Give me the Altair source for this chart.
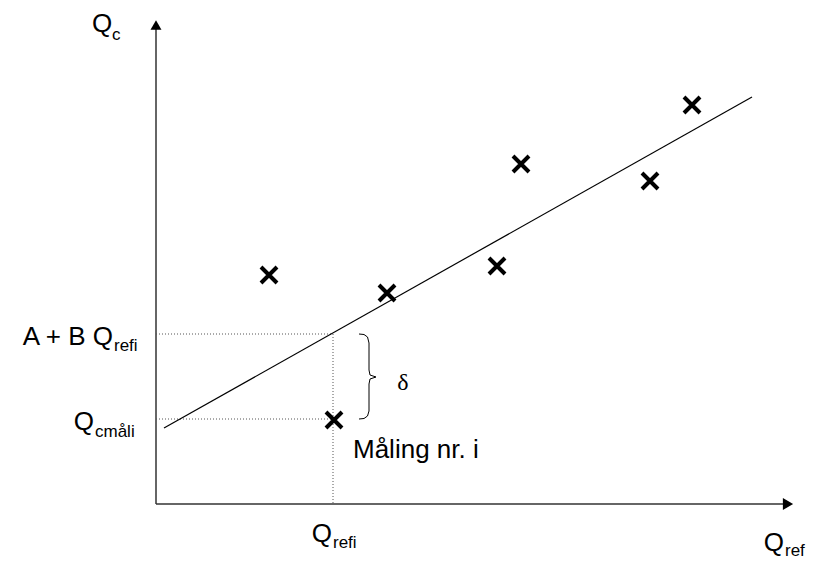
import altair as alt
import pandas as pd

# ---- data (units: origin at axis crossing) ----
meas_x = [113, 231, 341, 365, 494, 536]
meas_y = [229, 211, 238, 340, 323, 399]
point_i_x = [178]
point_i_y = [84]
fit_x = [8, 596]
fit_y = [76, 407]
q_refi = 177
a_b_qrefi = 170
q_cmaali = 85
axis_x_end = 632
axis_y_end = 479
brace_x = [203, 208, 211.5, 213, 213, 214, 220, 214, 213, 213, 211.5, 208, 203]
brace_y = [170, 169.5, 167, 161, 134, 129, 127, 125, 120, 93, 88, 85.5, 85]

main_left = ["Q", "Måling nr. i"]
main_left_x = [-64, 197]
main_left_y = [472, 46]
main_right = ["A + B Q", "Q", "Q", "Q"]
main_right_x = [-43, -62, 176, 628]
main_right_y = [159, 74, -38, -47]
subs = ["c", "refi", "cmåli", "refi", "ref"]
subs_x = [-44, -42, -61, 177, 629]
subs_y = [464, 153, 67, -44, -52]
delta_label = ["δ"]
delta_x = [247]
delta_y = [114]

X = alt.X("x:Q", scale=alt.Scale(domain=[-148, 652], nice=False, zero=False), axis=None)
Y = alt.Y("y:Q", scale=alt.Scale(domain=[-57, 496], nice=False, zero=False), axis=None)

axes_df = pd.DataFrame({"x": [0, 0], "y": [0, 0], "x2": [axis_x_end, 0], "y2": [0, axis_y_end]})
axes = alt.Chart(axes_df).mark_rule(color="#333333", strokeWidth=1.5).encode(
    x=X, y=Y, x2="x2:Q", y2="y2:Q")

arr_up = alt.Chart(pd.DataFrame({"x": [0], "y": [axis_y_end]})).mark_point(
    shape="triangle-up", filled=True, size=120, color="black", opacity=1).encode(x=X, y=Y)
arr_right = alt.Chart(pd.DataFrame({"x": [axis_x_end], "y": [0]})).mark_point(
    shape="triangle-right", filled=True, size=140, color="black", opacity=1).encode(x=X, y=Y)

dot_df = pd.DataFrame({
    "x": [0, 0, q_refi],
    "y": [a_b_qrefi, q_cmaali, a_b_qrefi],
    "x2": [q_refi, q_refi, q_refi],
    "y2": [a_b_qrefi, q_cmaali, 0],
})
dotted = alt.Chart(dot_df).mark_rule(color="#555555", strokeWidth=1, strokeDash=[1, 2]).encode(
    x=X, y=Y, x2="x2:Q", y2="y2:Q")

fit = alt.Chart(pd.DataFrame({"x": fit_x, "y": fit_y})).mark_line(
    color="black", strokeWidth=1.2).encode(x=X, y=Y)

brace = alt.Chart(pd.DataFrame({"x": brace_x, "y": brace_y, "o": list(range(len(brace_x)))})).mark_line(
    color="black", strokeWidth=1, interpolate="linear").encode(x=X, y=Y, order="o:Q")

pts_df = pd.DataFrame({"x": meas_x + point_i_x, "y": meas_y + point_i_y})
pts = alt.Chart(pts_df).mark_point(
    shape="M-1,-1L1,1M-1,1L1,-1", size=256, strokeWidth=4, filled=False,
    color="black", opacity=1).encode(x=X, y=Y)

t_left = alt.Chart(pd.DataFrame({"x": main_left_x, "y": main_left_y, "t": main_left})).mark_text(
    font="Liberation Sans", fontSize=26, align="left", baseline="alphabetic", color="black").encode(
    x=X, y=Y, text="t:N")
t_right = alt.Chart(pd.DataFrame({"x": main_right_x, "y": main_right_y, "t": main_right})).mark_text(
    font="Liberation Sans", fontSize=26, align="right", baseline="alphabetic", color="black").encode(
    x=X, y=Y, text="t:N")
t_sub = alt.Chart(pd.DataFrame({"x": subs_x, "y": subs_y, "t": subs})).mark_text(
    font="Liberation Sans", fontSize=17, align="left", baseline="alphabetic", color="black").encode(
    x=X, y=Y, text="t:N")
t_delta = alt.Chart(pd.DataFrame({"x": delta_x, "y": delta_y, "t": delta_label})).mark_text(
    font="Liberation Serif", fontSize=24, align="center", baseline="alphabetic", color="black").encode(
    x=X, y=Y, text="t:N")

chart = alt.layer(axes, arr_up, arr_right, dotted, fit, brace, pts, t_left, t_right, t_sub, t_delta).properties(
    width=800, height=553, autosize=alt.AutoSizeParams(type="none"), padding=0
).configure_view(strokeWidth=0)

chart.save("out.html", embed_options={"renderer": "svg", "actions": False})
